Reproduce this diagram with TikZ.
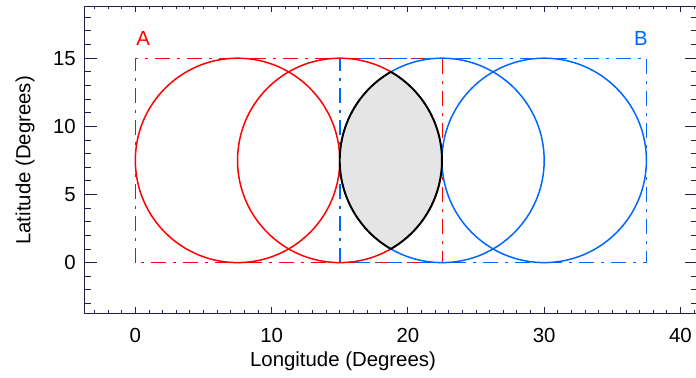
\documentclass[tikz,border=0pt]{standalone}
\usepackage{fontspec}
\setmainfont{Liberation Sans}
\usepackage{xcolor}
\usetikzlibrary{positioning,calc}

\definecolor{regA}{RGB}{255,0,0}
\definecolor{regB}{RGB}{0,102,255}
\definecolor{frame}{RGB}{30,30,80}
\tikzset{
  axlabel/.style={font=\fontsize{11.6}{14}\selectfont, inner sep=0pt},
  dashdot/.style={line width=0.7pt, dash pattern=on 0.3cm off 0.14cm on 0.06cm off 0.14cm},
  cell/.style={line width=0.85pt}
}

\begin{document}
\begin{tikzpicture}[x=0.2726cm, y=0.2726cm]
  % page = 696 x 378 px, origin of the data at pixel (135.3, 262.7)
  \useasboundingbox (-9.93,-8.46) rectangle (41.14,19.27);
  \def\xmin{-3.75}
  \def\xmax{41.25}
  \def\ymin{-3.7}
  \def\ymax{18.8}
  % dash-dot boxes of the two regions
  \draw[regA, dashdot] (0.02,0) rectangle (22.52,15);
  \draw[regB, dashdot] (15.02,0) rectangle (37.52,15);
  % circles, radius 7.5
  \draw[regA, cell] (7.5,7.5) circle (7.5);
  \draw[regA, cell] (15,7.5) circle (7.5);
  \draw[regB, cell] (22.5,7.5) circle (7.5);
  \draw[regB, cell] (30,7.5) circle (7.5);
  % overlap of the two middle circles
  \filldraw[fill=black!10, draw=black, line width=1.1pt]
    (18.75,1.005) arc[start angle=-60, end angle=60, radius=7.5]
    arc[start angle=120, end angle=240, radius=7.5] -- cycle;
  % region names
  \node[axlabel, text=regA] (labA) at (0.57,16.47) {A};
  \node[axlabel, text=regB] (labB) at (37.1,16.47) {B};
  % frame
  \draw[frame, line width=0.6pt] (\xmin,\ymin) rectangle (\xmax,\ymax);
  % x ticks: minor every 1, major every 10
  \foreach \v in {-3,...,41} {
    \draw[frame, line width=0.5pt] (\v,\ymin) -- ++(0,0.22);
    \draw[frame, line width=0.5pt] (\v,\ymax) -- ++(0,-0.22);
  }
  \foreach \v in {0,10,20,30,40} {
    \draw[frame, line width=0.5pt] (\v,\ymin) -- ++(0,0.44);
    \draw[frame, line width=0.5pt] (\v,\ymax) -- ++(0,-0.44);
    \node[axlabel] (xt\v) at (\v,-5.38) {\v};
  }
  % y ticks: minor every 1, major every 5
  \foreach \v in {-3,...,18} {
    \draw[frame, line width=0.5pt] (\xmin,\v) -- ++(0.5,0);
    \draw[frame, line width=0.5pt] (\xmax,\v) -- ++(-0.5,0);
  }
  \foreach \v in {0,5,10,15} {
    \draw[frame, line width=0.5pt] (\xmin,\v) -- ++(0.95,0);
    \draw[frame, line width=0.5pt] (\xmax,\v) -- ++(-0.95,0);
    \node[axlabel, anchor=east] (yt\v) at (-4.35,\v) {\v};
  }
  % axis titles
  \node[axlabel] (xtitle) at (15.24,-7.22) {Longitude (Degrees)};
  \node[axlabel, rotate=90] (ytitle) at (-8.09,7.5) {Latitude (Degrees)};
\end{tikzpicture}
\end{document}
